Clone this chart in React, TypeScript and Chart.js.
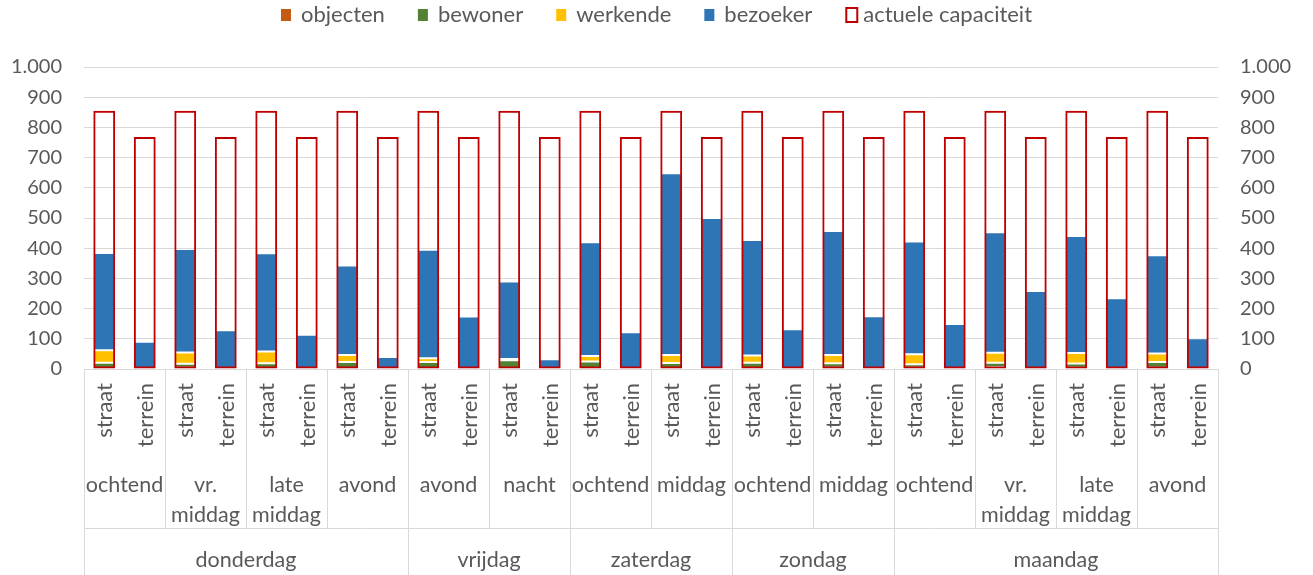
import React, { useEffect, useRef } from "react";
import { Chart, registerables } from "chart.js";

Chart.register(...registerables);

// ---- data ----
const subLabels = [
  "straat", "terrein", "straat", "terrein", "straat", "terrein", "straat", "terrein",
  "straat", "terrein", "straat", "terrein",
  "straat", "terrein", "straat", "terrein",
  "straat", "terrein", "straat", "terrein",
  "straat", "terrein", "straat", "terrein", "straat", "terrein", "straat", "terrein",
];
const periodLabels: string[][] = [
  ["ochtend"], ["vr.", "middag"], ["late", "middag"], ["avond"],
  ["avond"], ["nacht"],
  ["ochtend"], ["middag"],
  ["ochtend"], ["middag"],
  ["ochtend"], ["vr.", "middag"], ["late", "middag"], ["avond"],
];
const dayLabels = ["donderdag", "vrijdag", "zaterdag", "zondag", "maandag"];
const dayPeriodCounts = [4, 2, 2, 2, 4];

const objecten = [1, 0, 4, 0, 2, 0, 2, 0, 2, 0, 2, 0, 2, 0, 2, 0, 2, 0, 4, 0, 4, 0, 6, 0, 4, 0, 4, 0];
const bewoner = [20, 0, 13, 0, 17, 0, 21, 0, 21, 0, 27, 0, 23, 0, 18, 0, 19, 0, 15, 0, 12, 0, 15, 0, 14, 0, 19, 0];
const werkende = [41, 0, 38, 0, 39, 0, 23, 0, 13, 0, 4, 0, 18, 0, 26, 0, 24, 0, 27, 0, 33, 0, 33, 0, 35, 0, 28, 0];
const bezoeker = [322, 90, 342, 128, 325, 113, 297, 40, 359, 174, 257, 32, 377, 122, 602, 500, 382, 132, 411, 175, 373, 149, 399, 258, 387, 234, 326, 102];
const capaciteit = [855, 768, 855, 768, 855, 768, 855, 768, 855, 768, 855, 768, 855, 768, 855, 768, 855, 768, 855, 768, 855, 768, 855, 768, 855, 768, 855, 768];

const yTicks = [0, 100, 200, 300, 400, 500, 600, 700, 800, 900, 1000];

const seriesNames = ["objecten", "bewoner", "werkende", "bezoeker", "actuele capaciteit"];
const seriesColors = ["#C55A11", "#548235", "#FFC000", "#2E75B6", "#C00000"];

const FONT = "Lato, 'Noto Sans', sans-serif";
const TEXT = "#595959";
const GRID = "#d9d9d9";

const fmt = (v: number) => v.toLocaleString("de-DE");

const overlayPlugin = {
  id: "overlay",
  afterDraw(chart: any) {
    const ctx = chart.ctx as CanvasRenderingContext2D;
    const xs = chart.scales.x;
    const ys = chart.scales.y;
    const step = xs.getPixelForValue(1) - xs.getPixelForValue(0);
    const base = ys.getPixelForValue(0);
    const edge = (i: number) => xs.getPixelForValue(i) - step / 2;
    const bottom = chart.height;
    const midLine = base + 159;

    ctx.save();
    ctx.fillStyle = TEXT;

    // level 1: rotated labels
    ctx.font = `22px ${FONT}`;
    subLabels.forEach((lab, i) => {
      ctx.save();
      ctx.translate(Math.round(xs.getPixelForValue(i)) + 1, base + 14);
      ctx.rotate(-Math.PI / 2);
      ctx.textAlign = "right";
      ctx.textBaseline = "middle";
      ctx.fillText(lab, 0, 0);
      ctx.restore();
    });

    // level 2: period labels
    ctx.font = `21.5px ${FONT}`;
    ctx.textAlign = "center";
    ctx.textBaseline = "middle";
    periodLabels.forEach((lines, k) => {
      const cx = (edge(2 * k) + edge(2 * k + 2)) / 2;
      lines.forEach((ln, j) => ctx.fillText(ln, cx, base + 116 + j * 30));
    });

    // level 3: days
    const dayBounds: number[] = [0];
    dayPeriodCounts.forEach((c) => dayBounds.push(dayBounds[dayBounds.length - 1] + c * 2));
    dayLabels.forEach((d, k) => {
      const cx = (edge(dayBounds[k]) + edge(dayBounds[k + 1])) / 2;
      ctx.fillText(d, cx, base + 191);
    });

    // separators
    ctx.strokeStyle = GRID;
    ctx.lineWidth = 1;
    for (let k = 0; k <= subLabels.length / 2; k++) {
      const idx = 2 * k;
      const px = Math.round(edge(idx)) + 0.5;
      const isDay = dayBounds.includes(idx);
      ctx.beginPath();
      ctx.moveTo(px, base);
      ctx.lineTo(px, isDay ? bottom : midLine);
      ctx.stroke();
    }
    ctx.beginPath();
    ctx.moveTo(edge(0), Math.round(midLine) + 0.5);
    ctx.lineTo(edge(subLabels.length), Math.round(midLine) + 0.5);
    ctx.stroke();

    // legend
    ctx.font = `22px ${FONT}`;
    ctx.textAlign = "left";
    const gapItems = 33;
    const widths = seriesNames.map((n) => ctx.measureText(n).width);
    const lead = (i: number) => (i === 4 ? 18 : 20); // box + gap to text
    let total = 0;
    widths.forEach((w, i) => {
      total += lead(i) + w + (i < widths.length - 1 ? gapItems : 0);
    });
    let lx = (chart.width - total) / 2;
    const ly = 15;
    seriesNames.forEach((n, i) => {
      if (i === 4) {
        ctx.fillStyle = "#fff";
        ctx.fillRect(lx + 1, ly - 7, 11, 14);
        ctx.strokeStyle = seriesColors[i];
        ctx.lineWidth = 2;
        ctx.strokeRect(lx + 1, ly - 7, 11, 14);
      } else {
        ctx.fillStyle = seriesColors[i];
        ctx.fillRect(lx, ly - 6, 10, 12);
      }
      ctx.fillStyle = TEXT;
      ctx.fillText(n, lx + lead(i), ly);
      lx += lead(i) + widths[i] + gapItems;
    });
    ctx.restore();
  },
};

export default function App() {
  const ref = useRef<HTMLCanvasElement>(null);
  useEffect(() => {
    if (!ref.current) return;
    const stackCommon = {
      stack: "main",
      borderColor: "#ffffff",
      borderWidth: 1,
      borderSkipped: false,
      barPercentage: 0.54,
      categoryPercentage: 1,
    };
    const chart = new Chart(ref.current, {
      type: "bar",
      data: {
        labels: subLabels,
        datasets: [
          { label: seriesNames[0], data: objecten, backgroundColor: seriesColors[0], ...stackCommon },
          { label: seriesNames[1], data: bewoner, backgroundColor: seriesColors[1], ...stackCommon },
          { label: seriesNames[2], data: werkende, backgroundColor: seriesColors[2], ...stackCommon },
          { label: seriesNames[3], data: bezoeker, backgroundColor: seriesColors[3], ...stackCommon },
          {
            label: seriesNames[4],
            data: capaciteit,
            backgroundColor: "rgba(0,0,0,0)",
            borderColor: seriesColors[4],
            borderWidth: 2,
            borderSkipped: false,
            stack: "cap",
            grouped: false,
            order: -1,
            barPercentage: 0.54,
            categoryPercentage: 1,
          } as any,
        ],
      },
      options: {
        responsive: false,
        animation: false,
        layout: { padding: { top: 67, left: 0, right: 0, bottom: 0 } },
        plugins: { legend: { display: false }, tooltip: { enabled: false } },
        scales: {
          x: {
            stacked: true,
            ticks: { display: false },
            grid: { display: false },
            border: { display: false },
            afterFit: (s: any) => {
              s.height = 206;
            },
          },
          y: {
            stacked: true,
            position: "left",
            min: 0,
            max: 1000,
            afterBuildTicks: (s: any) => {
              s.ticks = yTicks.map((v) => ({ value: v }));
            },
            ticks: {
              padding: 22,
              color: TEXT,
              font: { family: FONT, size: 20 },
              callback: (v: any) => fmt(Number(v)),
            },
            grid: { color: GRID, lineWidth: 1, drawTicks: false },
            border: { display: false },
            afterFit: (s: any) => {
              s.width = 84;
            },
          },
          y2: {
            position: "right",
            min: 0,
            max: 1000,
            afterBuildTicks: (s: any) => {
              s.ticks = yTicks.map((v) => ({ value: v }));
            },
            ticks: {
              padding: 22,
              color: TEXT,
              font: { family: FONT, size: 20 },
              callback: (v: any) => fmt(Number(v)),
            },
            grid: { display: false, drawTicks: false },
            border: { display: false },
            afterFit: (s: any) => {
              s.width = 95;
            },
          },
        },
      } as any,
      plugins: [overlayPlugin],
    });
    return () => chart.destroy();
  }, []);
  return (
    <div style={{ position: "fixed", left: 0, top: 0, width: 1313, height: 575, background: "#fff" }}>
      <canvas ref={ref} width={1313} height={575} style={{ width: 1313, height: 575 }} />
    </div>
  );
}
